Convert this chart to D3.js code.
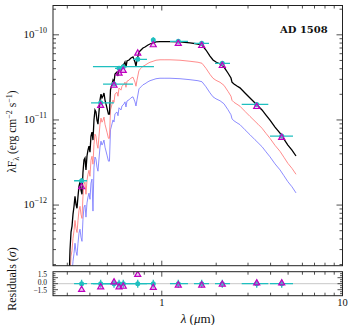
<!DOCTYPE html>
<html><head><meta charset="utf-8">
<script src="https://cdn.jsdelivr.net/npm/d3@7"></script>
<style>body{margin:0;background:#fff}svg{display:block}</style>
</head><body>
<svg id="c" width="357" height="325"></svg>
<script>
// ---- model spectra (wavelength in micron, lambda*F_lambda in erg cm^-2 s^-1)
const wavelength = [0.3084,0.3105,0.3145,0.3186,0.3226,0.3268,0.3309,0.3352,0.3395,0.3438,0.3482,0.3526,0.3571,0.3617,0.3663,0.3710,0.3758,0.3806,0.3855,0.3904,0.3954,0.4005,0.4056,0.4108,0.4161,0.4214,0.4268,0.4323,0.4378,0.4434,0.4491,0.4550,0.4608,0.4667,0.4727,0.4787,0.4850,0.4975,0.5068,0.5133,0.5201,0.5302,0.5370,0.5439,0.5508,0.5650,0.5723,0.5796,0.5946,0.6022,0.6177,0.6256,0.6336,0.6418,0.6583,0.6753,0.6928,0.7106,0.7197,0.7290,0.7478,0.7671,0.7869,0.8073,0.8391,0.8603,0.8949,0.9288,0.9773,1.041,1.110,1.261,1.433,1.586,1.669,1.756,1.848,1.920,1.995,2.100,2.208,2.323,2.415,2.446,2.509,2.606,2.708,2.887,3.077,3.280,3.409,3.586,3.773,3.970,4.232,4.510,4.742,4.987,5.253,5.529];
const fluxBest = [1.90e-13,2.96e-13,4.81e-13,5.66e-13,7.82e-13,9.68e-13,1.27e-12,1.02e-12,9.16e-13,1.27e-12,1.67e-12,1.86e-12,1.50e-12,1.34e-12,2.44e-12,3.38e-12,3.57e-12,2.58e-12,3.77e-12,4.43e-12,4.93e-12,4.19e-12,6.47e-12,7.20e-12,5.80e-12,9.97e-12,1.31e-11,1.24e-11,9.97e-12,8.94e-12,1.24e-11,1.71e-11,2.01e-11,1.81e-11,1.91e-11,2.07e-11,1.71e-11,1.38e-11,1.17e-11,1.17e-11,2.25e-11,2.64e-11,2.94e-11,2.78e-11,3.46e-11,3.65e-11,3.28e-11,4.08e-11,3.86e-11,4.30e-11,4.54e-11,4.79e-11,4.18e-11,4.92e-11,5.06e-11,5.34e-11,5.49e-11,4.79e-11,4.30e-11,5.06e-11,6.28e-11,6.63e-11,7.00e-11,7.19e-11,7.59e-11,7.80e-11,8.02e-11,8.24e-11,8.34e-11,8.34e-11,8.34e-11,8.24e-11,8.02e-11,7.80e-11,7.59e-11,6.63e-11,5.63e-11,5.06e-11,4.79e-11,4.54e-11,4.18e-11,3.56e-11,3.11e-11,2.78e-11,2.64e-11,2.50e-11,2.38e-11,2.07e-11,1.81e-11,1.58e-11,1.46e-11,1.31e-11,1.14e-11,9.97e-12,8.25e-12,7.01e-12,5.96e-12,5.07e-12,4.43e-12,3.77e-12];
const fluxRed = [9.9e-14,1.54e-13,2.50e-13,2.94e-13,4.07e-13,5.03e-13,6.60e-13,5.30e-13,4.76e-13,6.60e-13,8.68e-13,9.67e-13,7.80e-13,6.97e-13,1.27e-12,1.76e-12,1.86e-12,1.34e-12,1.96e-12,2.30e-12,2.56e-12,2.18e-12,3.36e-12,3.74e-12,3.02e-12,5.18e-12,6.81e-12,6.45e-12,5.18e-12,4.65e-12,6.45e-12,8.89e-12,1.05e-11,9.41e-12,9.93e-12,1.08e-11,8.89e-12,7.18e-12,6.08e-12,6.08e-12,1.31e-11,1.53e-11,1.71e-11,1.61e-11,2.01e-11,2.12e-11,1.90e-11,2.37e-11,2.24e-11,2.49e-11,2.63e-11,2.78e-11,2.42e-11,2.85e-11,2.93e-11,3.10e-11,3.18e-11,2.78e-11,2.49e-11,2.93e-11,3.83e-11,4.04e-11,4.27e-11,4.39e-11,4.63e-11,4.76e-11,4.89e-11,5.03e-11,5.09e-11,5.09e-11,5.09e-11,5.03e-11,4.89e-11,4.76e-11,4.63e-11,4.04e-11,3.43e-11,3.09e-11,2.92e-11,2.77e-11,2.55e-11,2.17e-11,1.90e-11,1.70e-11,1.61e-11,1.53e-11,1.45e-11,1.26e-11,1.10e-11,9.64e-12,8.91e-12,7.99e-12,6.95e-12,6.08e-12,5.03e-12,4.28e-12,3.64e-12,3.09e-12,2.70e-12,2.30e-12];
const fluxBlue = [5.3e-14,8.3e-14,1.35e-13,1.58e-13,2.19e-13,2.71e-13,3.56e-13,2.86e-13,2.56e-13,3.56e-13,4.68e-13,5.21e-13,4.20e-13,3.75e-13,6.83e-13,9.46e-13,1.00e-12,7.22e-13,1.06e-12,1.24e-12,1.38e-12,1.17e-12,1.81e-12,2.02e-12,8.5e-13,2.79e-12,3.67e-12,3.47e-12,2.79e-12,2.50e-12,3.47e-12,4.79e-12,5.63e-12,5.07e-12,5.35e-12,5.80e-12,4.79e-12,3.86e-12,3.28e-12,3.28e-12,7.65e-12,8.98e-12,1.00e-11,9.45e-12,1.18e-11,1.24e-11,1.12e-11,1.39e-11,1.31e-11,1.46e-11,1.54e-11,1.63e-11,1.42e-11,1.67e-11,1.72e-11,1.82e-11,1.87e-11,1.63e-11,1.46e-11,1.72e-11,2.32e-11,2.45e-11,2.59e-11,2.66e-11,2.81e-11,2.89e-11,2.97e-11,3.05e-11,3.09e-11,3.09e-11,3.09e-11,3.05e-11,2.97e-11,2.89e-11,2.81e-11,2.45e-11,2.08e-11,1.87e-11,1.77e-11,1.68e-11,1.55e-11,1.32e-11,1.15e-11,1.03e-11,9.77e-12,9.25e-12,8.81e-12,7.66e-12,6.70e-12,5.85e-12,5.40e-12,4.85e-12,4.22e-12,3.69e-12,3.05e-12,2.59e-12,2.21e-12,1.88e-12,1.64e-12,1.39e-12];

// ---- photometry
const photLambda = [0.360,0.459,0.544,0.580,0.612,0.736,0.897,1.234,1.663,2.162,3.352,4.608];
const photFlux   = [1.93e-12,1.59e-11,2.64e-11,4.04e-11,4.22e-11,5.15e-11,8.69e-11,8.39e-11,7.95e-11,4.63e-11,1.52e-11,6.47e-12];
const photLo     = [0.327,0.406,0.473,0.551,0.416,0.693,0.885,1.110,1.507,1.970,2.768,3.970];
const photHi     = [0.386,0.544,0.693,0.611,0.905,0.828,0.910,1.396,1.825,2.385,3.885,5.322];
const photErr    = [0.08,0.05,0.04,0.04,0.03,0.04,0.08,0.05,0.05,0.05,0.05,0.05];
const modelFlux  = [1.63e-12,1.47e-11,2.54e-11,3.53e-11,3.79e-11,6.06e-11,7.59e-11,7.86e-11,7.44e-11,4.33e-11,1.43e-11,6.21e-12];
const residuals  = [-1.5,-0.85,0.4,-0.85,-0.7,2.25,-1.0,-0.4,-0.4,-0.2,0.15,0.15];

const yMajor = [1e-12,1e-11,1e-10];
const yMajorLabels = ["−12","−11","−10"];
const resTicks = [-1.5,0,1.5];
const resTickLabels = ["−1.5","0.0","1.5"];
const xTickLabels = [[1,"1"],[10,"10"]];
const title = "AD 1508";

// ---- layout
const L=53, R=342.5, T=5.5, B=265.7, RT=271.7, RB=295.7;
const svg = d3.select('#c');
const x = d3.scaleLog().domain([0.25,10]).range([L,R]);
const y = d3.scaleLog().domain([1.94e-13,2.21e-10]).range([B,T]);
const yr = d3.scaleLinear().domain([-3,3]).range([RB,RT]);
const serif = "'Liberation Serif','Times New Roman',serif";
const cyan = "#1fbfbf", mag = "#c000c0";

const defs = svg.append('defs');
defs.append('clipPath').attr('id','cm').append('rect').attr('x',L).attr('y',T).attr('width',R-L).attr('height',B-T);
defs.append('clipPath').attr('id','cr').append('rect').attr('x',L).attr('y',RT).attr('width',R-L).attr('height',RB-RT);

const main = svg.append('g').attr('clip-path','url(#cm)');
const line = d3.line().x(d=>x(d[0])).y(d=>y(d[1]));
main.append('path').datum(d3.zip(wavelength,fluxBlue)).attr('d',line).attr('fill','none').attr('stroke','#8080ff').attr('stroke-width',1).attr('stroke-opacity',0.9);
main.append('path').datum(d3.zip(wavelength,fluxRed)).attr('d',line).attr('fill','none').attr('stroke','#ff7f7f').attr('stroke-width',1).attr('stroke-opacity',0.9);
main.append('path').datum(d3.zip(wavelength,fluxBest)).attr('d',line).attr('fill','none').attr('stroke','#000').attr('stroke-width',1.3);

const phot = d3.range(photLambda.length).map(i=>({l:photLambda[i],f:photFlux[i],lo:photLo[i],hi:photHi[i],e:photErr[i],m:modelFlux[i],r:residuals[i]}));
main.selectAll('.xe').data(phot).join('line').attr('x1',d=>x(d.lo)).attr('x2',d=>x(d.hi)).attr('y1',d=>y(d.f)).attr('y2',d=>y(d.f)).attr('stroke',cyan).attr('stroke-width',1.3);
main.selectAll('.ye').data(phot).join('line').attr('x1',d=>x(d.l)).attr('x2',d=>x(d.l)).attr('y1',d=>y(d.f*(1+d.e))).attr('y2',d=>y(d.f*(1-d.e))).attr('stroke',cyan).attr('stroke-width',1.3);
main.selectAll('.pt').data(phot).join('circle').attr('cx',d=>x(d.l)).attr('cy',d=>y(d.f)).attr('r',2.5).attr('fill',cyan);
const tri = d3.symbol().type(d3.symbolTriangle).size(16);
main.selectAll('.tr').data(phot).join('path').attr('d',tri).attr('transform',d=>`translate(${x(d.l)},${y(d.m)})`).attr('fill','rgba(200,120,220,0.35)').attr('stroke',mag).attr('stroke-width',1.2);

// residual panel
const res = svg.append('g').attr('clip-path','url(#cr)');
res.append('line').attr('x1',L).attr('x2',R).attr('y1',yr(0)).attr('y2',yr(0)).attr('stroke','#c8c8c8').attr('stroke-width',1);
res.selectAll('.rx').data(phot).join('line').attr('x1',d=>x(d.lo)).attr('x2',d=>x(d.hi)).attr('y1',yr(0)).attr('y2',yr(0)).attr('stroke',cyan).attr('stroke-width',1.3);
res.selectAll('.ry').data(phot).join('line').attr('x1',d=>x(d.l)).attr('x2',d=>x(d.l)).attr('y1',yr(1)).attr('y2',yr(-1)).attr('stroke',cyan).attr('stroke-width',1.3);
res.selectAll('.rp').data(phot).join('circle').attr('cx',d=>x(d.l)).attr('cy',yr(0)).attr('r',2.5).attr('fill',cyan);
res.selectAll('.rt').data(phot).join('path').attr('d',tri).attr('transform',d=>`translate(${x(d.l)},${yr(d.r)})`).attr('fill','rgba(200,120,220,0.35)').attr('stroke',mag).attr('stroke-width',1.2);

// frames
const ax = svg.append('g').attr('stroke','#222').attr('fill','none');
ax.append('rect').attr('x',L).attr('y',T).attr('width',R-L).attr('height',B-T).attr('stroke-width',1);
ax.append('rect').attr('x',L).attr('y',RT).attr('width',R-L).attr('height',RB-RT).attr('stroke-width',1);

const xMinor = [];
[0.1,1].forEach(p=>{for(let k=1;k<=9;k++){const v=k*p; if(v>=0.25&&v<=10) xMinor.push(v);}});
xMinor.push(10);
const xt = (v)=> (v===1||v===10)?5:3;
xMinor.forEach(v=>{
  const xx=x(v);
  [[T,1],[B,-1],[RT,1],[RB,-1]].forEach(([yy,s])=>{
    ax.append('line').attr('x1',xx).attr('x2',xx).attr('y1',yy).attr('y2',yy+s*xt(v)).attr('stroke-width',0.8);
  });
});
for(let n=-13;n<=-10;n++){for(let k=1;k<=9;k++){const v=k*Math.pow(10,n); if(v<1.94e-13||v>2.21e-10) continue;
  const len = k===1?6:3; const yy=y(v);
  ax.append('line').attr('x1',L).attr('x2',L+len).attr('y1',yy).attr('y2',yy).attr('stroke-width',0.8);
  ax.append('line').attr('x1',R).attr('x2',R-len).attr('y1',yy).attr('y2',yy).attr('stroke-width',0.8);
}}
d3.range(-2.5,2.51,0.5).forEach(v=>{
  const len = (Math.abs(v)===1.5||v===0)?5:2.5; const yy=yr(v);
  ax.append('line').attr('x1',L).attr('x2',L+len).attr('y1',yy).attr('y2',yy).attr('stroke-width',0.8);
  ax.append('line').attr('x1',R).attr('x2',R-len).attr('y1',yy).attr('y2',yy).attr('stroke-width',0.8);
});

// labels
const tx = svg.append('g').attr('font-family',serif).attr('fill','#111');
yMajor.forEach((v,i)=>{
  const t = tx.append('text').attr('x',47).attr('y',y(v)+3).attr('text-anchor','end').attr('font-size',11);
  t.append('tspan').text('10');
  t.append('tspan').attr('dy',-5).attr('font-size',8).text(yMajorLabels[i]);
});
// residual tick labels, spread slightly so they do not collide
const resLabelY = [292.5, 284.5, 276.5];
resTicks.forEach((v,i)=>{
  tx.append('text').attr('x',47).attr('y',resLabelY[i]).attr('text-anchor','end').attr('font-size',7.5).text(resTickLabels[i]);
});
xTickLabels.forEach(([v,s])=>{
  tx.append('text').attr('x',x(v)).attr('y',305.5).attr('text-anchor','middle').attr('font-size',10.5).text(s);
});
const xl = tx.append('text').attr('x',(L+R)/2).attr('y',322.5).attr('text-anchor','middle').attr('font-size',13);
xl.append('tspan').attr('font-style','italic').text('λ');
xl.append('tspan').text(' (');
xl.append('tspan').attr('font-style','italic').text('μ');
xl.append('tspan').text('m)');
const yl = tx.append('text').attr('transform',`translate(16,${(T+B)/2 - 4}) rotate(-90)`).attr('text-anchor','middle').attr('font-size',11.5);
yl.append('tspan').text('λF');
yl.append('tspan').attr('dy',2.5).attr('font-size',8).text('λ');
yl.append('tspan').attr('dy',-2.5).text(' (erg cm');
yl.append('tspan').attr('dy',-4).attr('font-size',8).text('−2');
yl.append('tspan').attr('dy',4).text(' s');
yl.append('tspan').attr('dy',-4).attr('font-size',8).text('−1');
yl.append('tspan').attr('dy',4).text(')');
const rl = tx.append('text').attr('transform',`translate(16,279) rotate(-90)`).attr('text-anchor','middle').attr('font-size',12);
rl.append('tspan').text('Residuals (');
rl.append('tspan').attr('font-style','italic').text('σ');
rl.append('tspan').text(')');
tx.append('text').attr('x',280).attr('y',32.5).attr('font-family',"'DejaVu Serif',serif").attr('font-weight','bold').attr('font-size',10).text(title);
</script>
</body></html>
